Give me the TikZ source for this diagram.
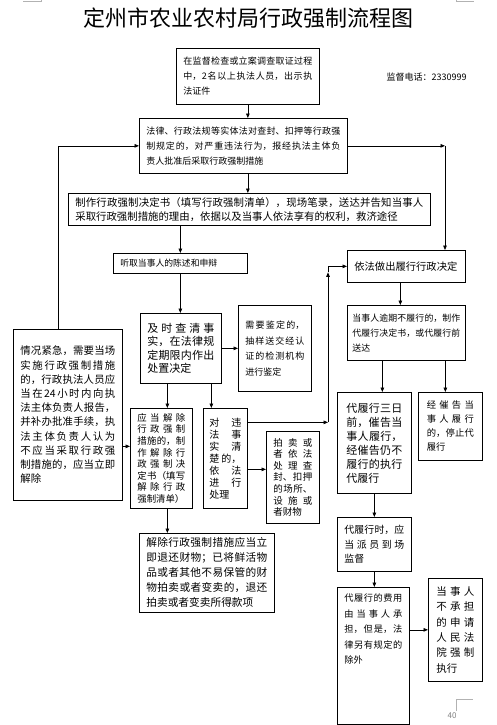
\documentclass[tikz,border=0pt]{standalone}
\usepackage{fontspec}
\setmainfont{Noto Sans CJK SC}
\usetikzlibrary{arrows.meta}
\XeTeXlinebreaklocale "zh"
\XeTeXlinebreakskip=0pt plus 50pt

\newcommand{\boxfont}[2]{\fontsize{#1pt}{#2pt}\selectfont}

\tikzset{
  blk/.style={draw, line width=0.7pt, anchor=north west, align=justify,
    inner xsep=7pt, inner ysep=3pt},
  arr/.style={line width=0.7pt, -{Triangle[length=4.5pt,width=3.6pt]}},
  cropline/.style={draw=gray!60, line width=0.5pt}
}

\begin{document}
\begin{tikzpicture}[x=1pt,y=-1pt]
  \useasboundingbox (0,0) rectangle (497,725);

  \draw[cropline] (23,1.5) -- (41,1.5) -- (41,0);
  \draw[cropline] (456,0) -- (456,1.5) -- (474,1.5);
  \draw[cropline] (456,711) -- (456,699) -- (473,699);
  \node[text=gray, font=\boxfont{8}{9}] (page) at (452,716) {40};

  \node (title) at (248,18) {\boxfont{22}{26}定州市农业农村局行政强制流程图};
  \node[anchor=west] (tel) at (383,77) {\boxfont{9}{11}监督电话：2330999};

  \node[blk, minimum width=143pt, minimum height=56pt, text width=129pt, font=\boxfont{9}{15}] (start) at (176,48) {在监督检查或立案调查取证过程\linebreak 中，2名以上执法人员，出示执\linebreak 法证件};
  \node[blk, minimum width=208pt, minimum height=55pt, text width=194pt, font=\boxfont{9}{15}] (approve) at (139,118) {法律、行政法规等实体法对查封、扣押等行政强\linebreak 制规定的，对严重违法行为，报经执法主体负\linebreak 责人批准后采取行政强制措施};
  \node[blk, minimum width=362pt, minimum height=32pt, text width=348pt, font=\boxfont{10.4}{14}] (decide) at (68,193) {制作行政强制决定书（填写行政强制清单），现场笔录，送达并告知当事人\linebreak 采取行政强制措施的理由，依据以及当事人依法享有的权利，救济途径};
  \node[blk, minimum width=134pt, minimum height=20pt, text width=120pt, font=\boxfont{8.8}{11}] (hear) at (113,253) {听取当事人的陈述和申辩};
  \node[blk, minimum width=81pt, minimum height=70pt, text width=67pt, font=\boxfont{11}{13.5}] (verify) at (140,313) {及时查清事\linebreak 实，在法律规\linebreak 定期限内作出\linebreak 处置决定};
  \node[blk, minimum width=73pt, minimum height=86pt, text width=59pt, font=\boxfont{9}{15.5}] (appraise) at (238,305) {需要鉴定的，\linebreak 抽样送交经认\linebreak 证的检测机构\linebreak 进行鉴定};
  \node[blk, minimum width=109pt, minimum height=171pt, text width=95pt, font=\boxfont{10.4}{14.2}] (urgent) at (13,329) {情况紧急，需要当场\linebreak 实施行政强制措施\linebreak 的，行政执法人员应\linebreak 当在24小时内向执\linebreak 法主体负责人报告，\linebreak 并补办批准手续，执\linebreak 法主体负责人认为\linebreak 不应当采取行政强\linebreak 制措施的，应当立即\linebreak 解除};
  \node[blk, minimum width=62pt, minimum height=100pt, text width=48pt, font=\boxfont{9.4}{11.6}] (release) at (130,408) {应当解除\linebreak 行政强制\linebreak 措施的，制\linebreak 作解除行\linebreak 政强制决\linebreak 定书（填写\linebreak 解除行政\linebreak 强制清单）};
  \node[blk, inner xsep=6pt, minimum width=44pt, minimum height=100pt, text width=32pt, font=\boxfont{10}{12}] (handle) at (203,408) {对违\linebreak 法事\linebreak 实清\linebreak 楚的，\linebreak 依法\linebreak 进行\linebreak 处理};
  \node[blk, minimum width=53pt, minimum height=92pt, text width=39pt, font=\boxfont{9.5}{11.6}] (auction) at (266,431) {拍卖或\linebreak 者依法\linebreak 处理查\linebreak 封、扣押\linebreak 的场所、\linebreak 设施或\linebreak 者财物};
  \node[blk, minimum width=135pt, minimum height=79pt, text width=121pt, font=\boxfont{10.7}{15}] (refund) at (139,533) {解除行政强制措施应当立\linebreak 即退还财物；已将鲜活物\linebreak 品或者其他不易保管的财\linebreak 物拍卖或者变卖的，退还\linebreak 拍卖或者变卖所得款项};

  \node[blk, minimum width=118pt, minimum height=32pt, text width=104pt, font=\boxfont{10.3}{13}] (perform) at (347,250) {依法做出履行行政决定};
  \node[blk, inner xsep=5pt, minimum width=118pt, minimum height=55pt, text width=108pt, font=\boxfont{8.9}{15}] (notice) at (347,305) {当事人逾期不履行的，制作\linebreak 代履行决定书，或代履行前\linebreak 送达};
  \node[blk, inner xsep=9pt, minimum width=74pt, minimum height=101pt, text width=56pt, font=\boxfont{11}{14}] (remind) at (337,392) {代履行三日\linebreak 前，催告当\linebreak 事人履行，\linebreak 经催告仍不\linebreak 履行的执行\linebreak 代履行};
  \node[blk, inner xsep=8.5pt, minimum width=64pt, minimum height=68pt, text width=47pt, font=\boxfont{9.3}{14}] (stop) at (418,392) {经催告当\linebreak 事人履行\linebreak 的，停止代\linebreak 履行};
  \node[blk, minimum width=74pt, minimum height=54pt, text width=60pt, font=\boxfont{9.9}{14.5}] (supervise) at (337,517) {代履行时，应\linebreak 当派员到场\linebreak 监督};
  \node[blk, minimum width=72pt, text width=58pt, text height=11.5pt, text depth=119.5pt, font=\boxfont{9.2}{15.5}] (cost) at (337,587) {代履行的费用\linebreak 由当事人承\linebreak 担，但是，法\linebreak 律另有规定的\linebreak 除外};
  \node[blk, inner xsep=8pt, minimum width=54pt, minimum height=103pt, text width=38pt, font=\boxfont{10.5}{15.4}] (court) at (428,578) {当事人\linebreak 不承担\linebreak 的申请\linebreak 人民法\linebreak 院强制\linebreak 执行};

  \coordinate (k1) at (445,148);
  \coordinate (k2) at (328,422);
  \coordinate (up) at (58,329);

  \draw[arr] (start.south) -- (start.south |- approve.north);
  \draw[arr] (up) |- (approve.west);
  \draw[arr] (approve.east) -- (approve.east -| k1);
  \draw[arr] (approve.east -| k1) -- (k1 |- perform.north);
  \draw[arr] (start.south |- approve.south) -- (start.south |- decide.north);
  \draw[arr] (hear.north |- decide.south) -- (hear.north);
  \draw[arr] (hear.south) -- (hear.south |- verify.north);
  \draw[arr] (verify.east) -- (appraise.west);
  \draw[arr] ([xshift=6pt]release.north |- verify.south) -- ([xshift=6pt]release.north);
  \draw[arr] ([xshift=-14pt]handle.north |- verify.south) -- ([xshift=-14pt]handle.north);
  \draw[arr] ([yshift=12pt]release.west -| urgent.east) -- ([yshift=12pt]release.west);
  \draw[arr] ([xshift=6pt]release.south) -- ([xshift=6pt]release.south |- refund.north);
  \draw[arr] ([yshift=-11pt]handle.east) -- ([yshift=-11pt]handle.east -| auction.west);
  \draw[arr] ([yshift=36pt]handle.east) -- ([yshift=36pt]handle.east -| k2);
  \draw[arr] ([yshift=36pt]handle.east -| k2) -- ([yshift=-6pt]k2 |- perform.west);
  \draw[arr] ([yshift=-6pt]k2 |- perform.west) |- (perform.west);
  \draw[arr] ([xshift=-6pt]perform.south) -- ([xshift=-6pt]perform.south |- notice.north);
  \draw[arr] ([xshift=8pt]remind.north |- notice.south) -- ([xshift=8pt]remind.north);
  \draw[arr] ([xshift=-5pt]stop.north |- notice.south) -- ([xshift=-5pt]stop.north);
  \draw[arr] (remind.south) -- (remind.south |- supervise.north);
  \draw[arr] (supervise.south) -- (supervise.south |- cost.north);
  \draw[arr] (court.west -| cost.east) -- (court.west);

\end{tikzpicture}
\end{document}
